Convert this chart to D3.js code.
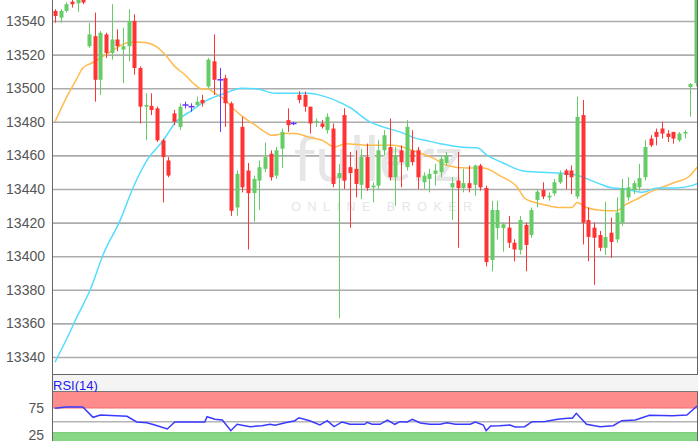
<!DOCTYPE html>
<html>
<head>
<meta charset="utf-8">
<script src="https://cdn.jsdelivr.net/npm/d3@7"></script>
<style>
  html, body { margin: 0; padding: 0; background: #fff; }
  svg { display: block; font-family: "Liberation Sans", Arial, sans-serif; }
</style>
</head>
<body>
<div id="chart"></div>
<script>
// candles: [open, high, low, close]
const ohlc = [
  [13546,13547,13539,13543],[13542,13547,13539,13546],[13546,13551,13545,13550],[13551.5,13553,13548,13550],
  [13550.5,13554,13545.5,13553],[13553,13555,13550,13551],[13525,13539,13524,13532],[13531,13545,13492,13505],
  [13505,13534,13496,13533],[13532,13533,13518,13521],[13521,13550,13517,13529],[13529,13535,13522,13525],
  [13523,13536,13503,13525],[13525,13547,13516,13540],[13540,13544,13508,13512],[13512,13513,13479,13489],
  [13489,13497,13469,13490],[13489.5,13497,13484,13487],[13488,13489,13468,13469],[13469,13470,13432,13459],
  [13457,13459,13447,13448],[13485,13487,13478,13480],[13477,13491,13475,13489],[13490,13492,13488,13490],
  [13489,13491,13486,13489],[13490,13495,13489,13492],[13493,13496,13489,13491],[13501,13518,13500,13517],
  [13516,13532,13496,13505],[13505,13512,13474,13505],[13506,13508,13477,13491],[13491,13492,13424,13427],
  [13429,13451,13424,13449],[13477,13483,13438,13441],[13451,13455.5,13404,13437.5],[13437.6,13448,13420.5,13446],
  [13445,13457,13427.5,13453],[13452,13467.6,13450,13459],[13461,13463,13445,13447],[13448,13465,13446,13463],
  [13464,13476,13452.5,13474],[13481,13488,13474,13478],[13479,13480,13478,13479],[13496,13498,13491,13493],
  [13496,13498,13486,13489],[13489,13489,13473,13479],[13479.5,13482,13477,13480.5],[13479,13481,13476,13477],
  [13475,13485,13473,13483],[13476,13479,13441,13443],[13446.5,13455,13363,13449.5],[13484,13488,13440,13445],
  [13453,13462,13417,13449.5],[13452,13463,13435,13443],[13442.5,13464,13434,13459],[13459,13467,13439,13440.6],
  [13441,13444,13432,13442],[13442,13469,13440,13463],[13463,13475,13460,13472],[13465,13482,13445,13447],
  [13447,13465,13430,13460],[13463,13466,13441,13456],[13453,13481,13451,13477],[13463,13475,13454,13456],
  [13463,13465,13440,13447],[13444,13450,13440,13448],[13446,13452,13438,13449],[13449,13455,13442,13451],
  [13450,13460,13447,13458],[13455.5,13462,13454,13460],[13441,13447,13421.5,13443.5],[13445,13462,13405,13440.6],
  [13440.6,13452,13438,13443.5],[13443.5,13454,13438,13440.6],[13442.5,13454.5,13436,13454],[13454,13455,13439,13441],
  [13440.6,13442,13394,13396.5],[13397.7,13433,13391,13427.5],[13416.7,13433,13410,13427.5],[13416.7,13420,13402.7,13419],
  [13417,13424,13405,13408],[13408,13410,13397,13404],[13403.7,13424,13401,13421.5],[13418.6,13420,13391,13406.7],
  [13412.6,13429,13411,13427.5],[13433.5,13440,13429,13438.4],[13439.4,13444,13434,13435.5],[13435,13438,13433,13436],
  [13437.4,13446,13436,13444],[13444,13451,13443,13449],[13451,13452,13440,13448.3],[13451,13454,13437,13447],
  [13435.5,13495,13434,13483],[13484,13493,13407,13420],[13421.5,13429,13397,13411.5],[13417,13420,13383,13411],
  [13412.6,13415,13403,13405],[13405,13432.5,13400.7,13411.5],[13414,13423,13399,13408.5],
  [13410,13435,13408,13426],[13420,13446,13418,13440.6],[13435,13447,13433,13441],
  [13439.4,13445,13437,13443.5],[13441,13455,13439,13446.5],[13447,13469,13445,13465],[13470,13472,13465,13466],
  [13474,13476,13466,13471],[13476,13480,13470,13473],[13473,13475,13468,13471],[13474,13474,13467,13470],
  [13469,13474,13468,13473],[13473,13475,13470,13474],[13500.7,13503,13483,13502.5],[13503,13565,13501,13560]
]

// moving averages, [bar, value]
const maFast = [
  [0,13480],[2.1,13495],[3.9,13506],[4.9,13512],[6.5,13515],[8,13518],[9.7,13521.5],[11.1,13524.5],
  [12.7,13527],[14.1,13527.5],[16.2,13527],[18,13524.5],[19.4,13520],[21.1,13513],[22.9,13508],[24.7,13502],
  [25.9,13499.5],[26.9,13499.5],[28.2,13497],[30,13493],[31.7,13487],[33.5,13482],[35.3,13478],[37,13474],
  [38.2,13472],[40.6,13473],[42.3,13473],[44.6,13471],[47.1,13469],[49.3,13465],[51.1,13467],[55.5,13466],
  [59.5,13466],[63.8,13462],[66.6,13458.5],[69.1,13454],[72.6,13452.5],[75.5,13452.5],[78.4,13448],[81.5,13441],
  [82.8,13434.5],[84.6,13432],[86.4,13430.5],[88.7,13429],[91.2,13429],[92,13432],[93.7,13429],[95.7,13427.5],
  [99,13427],[100.5,13430.5],[102.3,13433.5],[104.5,13437.5],[107,13441],[109.3,13444],[111.6,13447],[113.2,13453]
]
const maSlow = [
  [0,13337],[2.1,13351],[3.9,13364],[6.2,13380],[8.5,13401],[11.5,13421.5],[13.8,13441],[16.2,13457],
  [19.1,13469],[21.1,13479],[24.2,13487],[26.9,13493],[30,13497],[32.9,13500],[35.8,13499.5],[38.8,13497],
  [41.8,13497],[44.6,13497],[47.6,13495],[50.6,13491],[52,13488.5],[55.5,13480],[57.8,13477],[60.8,13474],
  [63.8,13470],[65.2,13469],[67.9,13467],[71.4,13465],[74.4,13464.5],[76.2,13460],[79,13455.5],[82.8,13450.5],
  [85.9,13450],[88.6,13449.5],[92.2,13448],[95.7,13443.5],[98.2,13440.6],[100.5,13440],[103.5,13438],[106.3,13440.6],
  [109.3,13440.6],[112.3,13442],[113.4,13443.5]
]
const rsi = [
  [0,74.5],[2,77],[4.9,77],[6.7,58],[8,62.2],[12.7,59.9],[14.4,49.5],[16.2,48.2],[17.6,44],[19.8,36.7],
  [21.1,49.5],[26.4,49.5],[26.8,59],[28.2,54.4],[29.5,53],[31,33.6],[32.1,45.3],[34.4,40.9],[36.5,42.7],[37.9,45.3],
  [38.8,43.4],[40.6,48.2],[42.3,51.8],[43,57.3],[44.9,51.8],[46.7,44],[48,51.8],[49.2,40.9],[50.6,49.5],
  [52,45.3],[54.6,45.3],[55,48.9],[55.9,45.3],[57.3,45.3],[58.6,53],[59.9,45.3],[60.8,50],[62.1,49.5],[63,54.4],
  [64.4,47.6],[66.1,45.3],[67.9,45.3],[69.1,48.2],[70.6,45.3],[73.2,45.3],[74.1,49.5],[75.5,44],[76,33.6],
  [76.8,42.3],[78.4,42.7],[80.2,44],[81.1,40.3],[82.8,40.9],[84.1,50],[86.4,50.5],[88.6,54.4],[90.4,56.2],[91.2,56.2],
  [91.9,65.3],[93.7,45.3],[96.1,40.9],[98.4,42.7],[99.9,51.8],[102.3,53],[104.8,61.7],[108.8,61],[111.4,62],[113.2,78.6]
]
const priceTicks = [13340, 13360, 13380, 13400, 13420, 13440, 13460, 13480, 13500, 13520, 13540]
const rsiTicks = [25, 75]
const rsiOverbought = 75
const rsiOversold = 30

const W = 700, H = 441
const left = 52, right = 698
const mainBottom = 374, rsiTop = 392

const svg = d3.select('#chart').append('svg')
  .attr('width', W)
  .attr('height', H)

const x = d3.scaleLinear().domain([0, ohlc.length - 1]).range([55, 696])
const y = d3.scaleLinear().domain([13340, 13540]).range([357, 21])
const ry = d3.scaleLinear().domain([25, 75]).range([435.4, 408])

svg.append('clipPath').attr('id', 'clipMain')
  .append('rect').attr('x', left).attr('y', 0).attr('width', right - left).attr('height', mainBottom)
svg.append('clipPath').attr('id', 'clipRsi')
  .append('rect').attr('x', left).attr('y', rsiTop).attr('width', right - left).attr('height', H - rsiTop)

// grid
svg.append('g')
  .attr('transform', `translate(${left},0)`)
  .call(d3.axisLeft(y).tickValues(priceTicks).tickSize(-(right - left)).tickFormat(''))
  .call(g => g.select('.domain').remove())
  .call(g => g.selectAll('line').attr('stroke', '#acacac').attr('stroke-width', 1.6))

// watermark
const wm = svg.append('g').attr('fill', '#e6e6e6')
wm.append('text')
  .attr('x', 378).attr('y', 181)
  .attr('text-anchor', 'middle')
  .attr('font-size', 62)
  .attr('font-family', 'Lato, "Open Sans", sans-serif')
  .text('fullerz')
wm.append('text')
  .attr('x', 385).attr('y', 211)
  .attr('text-anchor', 'middle')
  .attr('font-size', 12.5)
  .attr('letter-spacing', 6.5)
  .text('ONLINE BROKER')

const plot = svg.append('g').attr('clip-path', 'url(#clipMain)')

const line = d3.line()
  .x(d => x(d[0]))
  .curve(d3.curveMonotoneX)

plot.append('path')
  .datum(maFast)
  .attr('fill', 'none')
  .attr('stroke', '#ffbb4d')
  .attr('stroke-width', 1.5)
  .attr('d', line.y(d => y(d[1])))

plot.append('path')
  .datum(maSlow)
  .attr('fill', 'none')
  .attr('stroke', '#55ddff')
  .attr('stroke-width', 1.5)
  .attr('d', line.y(d => y(d[1])))

const colorOf = d => d[3] > d[0] ? '#66cc66' : d[3] < d[0] ? '#ff3333' : '#6633ff'
const bw = 4

const candle = plot.append('g').selectAll('g')
  .data(ohlc)
  .join('g')
  .attr('transform', (d, i) => `translate(${Math.round(x(i))},0)`)

candle.append('line')
  .attr('x1', 0.5).attr('x2', 0.5)
  .attr('y1', d => y(d[1])).attr('y2', d => y(d[2]))
  .attr('stroke', colorOf)

candle.append('rect')
  .attr('x', -bw / 2 + 0.5)
  .attr('y', d => y(Math.max(d[0], d[3])))
  .attr('width', d => d[0] === d[3] ? bw + 2 : bw)
  .attr('height', d => Math.max(1.5, Math.abs(y(d[0]) - y(d[3]))))
  .attr('transform', d => d[0] === d[3] ? 'translate(-1,-0.75)' : null)
  .attr('fill', colorOf)

// price labels
svg.append('g')
  .selectAll('text')
  .data(priceTicks)
  .join('text')
  .attr('x', 45)
  .attr('y', d => y(d))
  .attr('dy', '0.36em')
  .attr('text-anchor', 'end')
  .attr('font-size', 14)
  .attr('fill', '#555')
  .text(d => d)

// separator strip between panes
svg.append('rect').attr('x', left).attr('y', mainBottom).attr('width', right - left).attr('height', rsiTop - mainBottom)
  .attr('fill', '#f4f4f4')
svg.append('line').attr('x1', left).attr('x2', right).attr('y1', mainBottom + 0.5).attr('y2', mainBottom + 0.5)
  .attr('stroke', '#666')
svg.append('line').attr('x1', left).attr('x2', right).attr('y1', rsiTop - 0.5).attr('y2', rsiTop - 0.5)
  .attr('stroke', '#777')

svg.append('text')
  .attr('x', 53).attr('y', 389.5)
  .attr('font-size', 13)
  .attr('fill', '#2020ee')
  .text('RSI(14)')

// rsi panel
const rp = svg.append('g').attr('clip-path', 'url(#clipRsi)')
rp.append('rect').attr('x', left).attr('y', rsiTop).attr('width', right - left).attr('height', ry(rsiOverbought) - rsiTop)
  .attr('fill', '#ff8c8c')
rp.append('line').attr('x1', left).attr('x2', right).attr('y1', ry(rsiOverbought)).attr('y2', ry(rsiOverbought))
  .attr('stroke', '#f06a6a')
rp.append('rect').attr('x', left).attr('y', ry(rsiOversold)).attr('width', right - left).attr('height', H - ry(rsiOversold))
  .attr('fill', '#88d888')
rp.append('line').attr('x1', left).attr('x2', right).attr('y1', ry(rsiOversold)).attr('y2', ry(rsiOversold))
  .attr('stroke', '#6cc66c')
rp.append('line').attr('x1', left).attr('x2', right).attr('y1', ry(50)).attr('y2', ry(50))
  .attr('stroke', '#b4b4b4').attr('stroke-width', 1.6)

rp.append('path')
  .datum(rsi)
  .attr('fill', 'none')
  .attr('stroke', '#3a3aff')
  .attr('stroke-width', 1.5)
  .attr('d', d3.line().x(d => x(d[0])).y(d => ry(d[1])))

svg.append('g')
  .selectAll('text')
  .data(rsiTicks)
  .join('text')
  .attr('x', 44)
  .attr('y', d => ry(d))
  .attr('dy', '0.36em')
  .attr('text-anchor', 'end')
  .attr('font-size', 14)
  .attr('fill', '#555')
  .text(d => d)

// frame
svg.append('line').attr('x1', left + 0.5).attr('x2', left + 0.5).attr('y1', 0).attr('y2', H).attr('stroke', '#666')
svg.append('line').attr('x1', right - 0.5).attr('x2', right - 0.5).attr('y1', 0).attr('y2', mainBottom).attr('stroke', '#666')
svg.append('line').attr('x1', right - 0.5).attr('x2', right - 0.5).attr('y1', rsiTop).attr('y2', H).attr('stroke', '#666')
</script>
</body>
</html>
